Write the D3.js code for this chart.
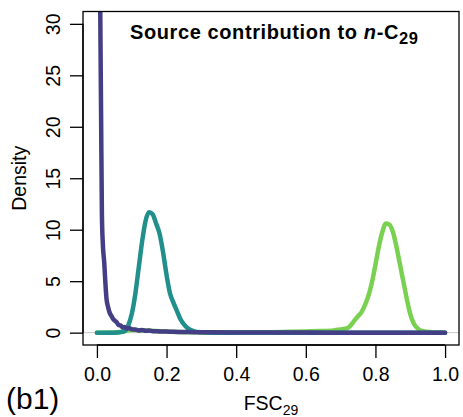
<!DOCTYPE html>
<html><head><meta charset="utf-8">
<script src="https://cdn.jsdelivr.net/npm/d3@7"></script>
<style>
html,body{margin:0;padding:0;background:#fff;}
text{font-family:"Liberation Sans",Arial,Helvetica,sans-serif;fill:#000;}
</style></head>
<body>
<svg id="chart" width="463" height="417"></svg>
<script>
// ---- data ----
const xTicks = [0, 0.2, 0.4, 0.6, 0.8, 1.0];
const xTickLabels = ["0.0", "0.2", "0.4", "0.6", "0.8", "1.0"];
const yTicks = [0, 5, 10, 15, 20, 25, 30];
const yTickLabels = ["0", "5", "10", "15", "20", "25", "30"];

const limeX = [0, 0.05, 0.07, 0.1, 0.13, 0.16, 0.2, 0.25, 0.3, 0.4, 0.5, 0.55, 0.6, 0.64, 0.68, 0.7, 0.72, 0.73, 0.74, 0.75, 0.76, 0.77, 0.78, 0.79, 0.8, 0.81, 0.82, 0.83, 0.84, 0.85, 0.86, 0.87, 0.88, 0.89, 0.9, 0.91, 0.92, 0.93, 0.95, 0.97, 1.0];
const limeY = [0, 0.02, 0.1, 0.25, 0.22, 0.18, 0.1, 0.05, 0.03, 0.03, 0.05, 0.08, 0.12, 0.15, 0.22, 0.3, 0.45, 0.75, 1.2, 1.6, 2.0, 2.7, 3.6, 4.9, 6.6, 8.4, 9.8, 10.6, 10.5, 9.8, 8.4, 6.7, 5.0, 3.3, 1.8, 0.9, 0.45, 0.2, 0.08, 0.02, 0];

const tealX = [0, 0.05, 0.07, 0.08, 0.09, 0.1, 0.11, 0.12, 0.13, 0.14, 0.15, 0.16, 0.17, 0.18, 0.19, 0.2, 0.21, 0.22, 0.23, 0.24, 0.25, 0.26, 0.27, 0.28, 0.3, 0.33, 0.5, 1.0];
const tealY = [0, 0, 0.05, 0.15, 0.7, 1.8, 3.7, 6.3, 8.9, 10.9, 11.7, 11.5, 10.6, 9.6, 7.8, 5.6, 3.8, 2.9, 2.1, 1.3, 0.8, 0.45, 0.25, 0.12, 0.04, 0, 0, 0];

const purpleX = [0, 0.005, 0.0095, 0.012, 0.0143, 0.017, 0.021, 0.024, 0.0275, 0.032, 0.037, 0.042, 0.047, 0.052, 0.057, 0.062, 0.068, 0.074, 0.08, 0.086, 0.092, 0.1, 0.11, 0.12, 0.13, 0.14, 0.15, 0.16, 0.18, 0.2, 0.22, 0.25, 0.28, 0.32, 0.4, 0.5, 0.7, 1.0];
const purpleY = [100, 60, 31.5, 21, 11.5, 8.6, 6.8, 5.0, 3.3, 2.5, 1.9, 1.6, 1.3, 1.15, 1.0, 0.75, 0.7, 0.5, 0.55, 0.4, 0.45, 0.32, 0.3, 0.22, 0.26, 0.18, 0.2, 0.14, 0.12, 0.1, 0.08, 0.06, 0.05, 0.03, 0.01, 0.005, 0, 0];

const seriesNames = ["lime", "teal", "purple"];
const seriesColors = ["#7AD151", "#21908C", "#433E85"];

// ---- layout ----
const svg = d3.select("#chart");
const box = {left: 83, right: 459, top: 11.5, bottom: 345};
const x = d3.scaleLinear().domain([-0.04, 1.04]).range([box.left, box.right]);
const y = d3.scaleLinear().domain([-1.2, 31.2]).range([box.bottom, box.top]);
const FS = 19.5;

svg.append("defs").append("clipPath").attr("id", "clip")
  .append("rect").attr("x", box.left).attr("y", box.top)
  .attr("width", box.right - box.left).attr("height", box.bottom - box.top);

const plot = svg.append("g").attr("clip-path", "url(#clip)");

// zero reference line
plot.append("line")
  .attr("x1", box.left).attr("x2", box.right)
  .attr("y1", y(0)).attr("y2", y(0))
  .attr("stroke", "#c8c8c8").attr("stroke-width", 1);

const series = [
  {xs: limeX, ys: limeY},
  {xs: tealX, ys: tealY},
  {xs: purpleX, ys: purpleY}
];
const line = d3.line().x(d => x(d[0])).y(d => y(d[1])).curve(d3.curveMonotoneX);
series.forEach((s, i) => {
  plot.append("path")
    .datum(s.xs.map((v, j) => [v, s.ys[j]]))
    .attr("d", line)
    .attr("fill", "none")
    .attr("stroke", seriesColors[i])
    .attr("stroke-width", 4.5)
    .attr("stroke-linejoin", "round")
    .attr("stroke-linecap", "round");
});

// box
svg.append("rect")
  .attr("x", box.left).attr("y", box.top)
  .attr("width", box.right - box.left).attr("height", box.bottom - box.top)
  .attr("fill", "none").attr("stroke", "#000").attr("stroke-width", 1.3);

// x axis
const xAxis = d3.axisBottom(x).tickValues(xTicks)
  .tickFormat((d, i) => xTickLabels[i]).tickSize(13).tickPadding(9);
const gx = svg.append("g").attr("transform", `translate(0,${box.bottom})`).call(xAxis);
gx.select(".domain").attr("d", `M${x(xTicks[0])},0H${x(xTicks[xTicks.length-1])}`).attr("stroke-width", 1.3);
gx.selectAll(".tick line").attr("stroke-width", 1.3);
gx.selectAll(".tick text").attr("font-size", FS).attr("font-family", "Liberation Sans, Arial, sans-serif");

// y axis
const yAxis = d3.axisLeft(y).tickValues(yTicks)
  .tickFormat((d, i) => yTickLabels[i]).tickSize(13).tickPadding(8);
const gy = svg.append("g").attr("transform", `translate(${box.left},0)`).call(yAxis);
gy.select(".domain").attr("d", `M0,${y(yTicks[0])}V${y(yTicks[yTicks.length-1])}`).attr("stroke-width", 1.3);
gy.selectAll(".tick line").attr("stroke-width", 1.3);
gy.selectAll(".tick text")
  .attr("font-size", FS).attr("font-family", "Liberation Sans, Arial, sans-serif")
  .attr("x", null).attr("dy", null)
  .attr("text-anchor", "middle")
  .attr("transform", "translate(-23,0) rotate(-90)");

// y label
svg.append("text")
  .attr("transform", `translate(26,${(box.top + box.bottom) / 2}) rotate(-90)`)
  .attr("text-anchor", "middle").attr("font-size", FS).text("Density");

// x label
const xl = svg.append("text").attr("x", 271).attr("y", 410)
  .attr("text-anchor", "middle").attr("font-size", FS);
xl.append("tspan").text("FSC");
xl.append("tspan").attr("font-size", 14).attr("dy", 5).text("29");

// title
const t = svg.append("text").attr("x", 130).attr("y", 39)
  .attr("font-size", 20).attr("font-weight", "bold").attr("letter-spacing", 0.6);
t.append("tspan").text("Source contribution to ");
t.append("tspan").attr("font-style", "italic").text("n");
t.append("tspan").text("-C");
t.append("tspan").attr("font-size", 16.5).attr("dy", 5).text("29");

// panel tag
svg.append("text").attr("x", 6).attr("y", 409).attr("font-size", 30).text("(b1)");
</script>
</body></html>
